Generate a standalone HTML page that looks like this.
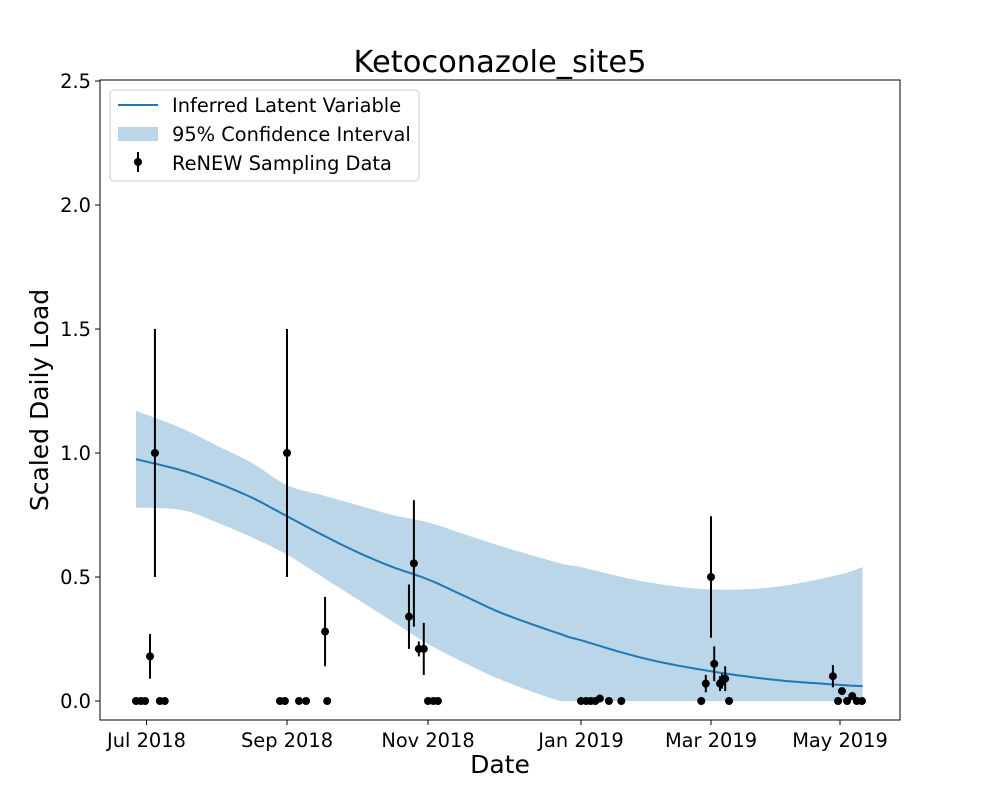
<!DOCTYPE html>
<html><head><meta charset="utf-8"><style>
body{margin:0;background:#fff;}
svg text{font-family:"DejaVu Sans","Liberation Sans",sans-serif;}
</style></head><body>
<svg id="chart" width="1000" height="800" viewBox="0 0 1000 800">
<rect x="0" y="0" width="1000" height="800" fill="#fff"/>
<g id="band"></g>
<g id="line"></g>
<g id="pts"></g>
<rect x="100" y="80" width="800" height="640" fill="none" stroke="#000" stroke-width="1"/>
<g id="xt"></g>
<g id="yt"></g>
<text x="500" y="72" font-size="30.5" text-anchor="middle">Ketoconazole_site5</text>
<text x="500" y="773" font-size="25" text-anchor="middle">Date</text>
<text x="48" y="400" font-size="25" text-anchor="middle" transform="rotate(-90 48 400)">Scaled Daily Load</text>
<g>
<rect x="110" y="90" width="309" height="91" rx="4" fill="#fff" fill-opacity="0.8" stroke="#ccc"/>
<line x1="118" y1="105" x2="158" y2="105" stroke="#1f77b4" stroke-width="2"/>
<text x="172" y="112" font-size="19.4">Inferred Latent Variable</text>
<rect x="118" y="127" width="40" height="14" fill="#1f77b4" fill-opacity="0.3"/>
<text x="172" y="141" font-size="19.4">95% Confidence Interval</text>
<line x1="138" y1="152" x2="138" y2="172" stroke="#000" stroke-width="2"/>
<circle cx="138" cy="162" r="4" fill="#000"/>
<text x="172" y="170" font-size="19.4">ReNEW Sampling Data</text>
</g>
</svg>
<script>
// x in months since Jul 1 2018
const tickMonths=[0,2,4,6,8,10];
const tickLabels=["Jul 2018","Sep 2018","Nov 2018","Jan 2019","Mar 2019","May 2019"];
const yTicks=[0,0.5,1,1.5,2,2.5];
const yTickLabels=["0.0","0.5","1.0","1.5","2.0","2.5"];
const curveX=[-0.15,0.5,1,1.5,2,2.5,3,3.5,4,4.5,5,5.73,6,7,8,9,10,10.35];
const meanY=[0.975,0.93,0.88,0.82,0.745,0.67,0.6,0.54,0.49,0.42,0.35,0.27,0.245,0.17,0.12,0.085,0.065,0.06];
const upperY=[1.17,1.1,1.03,0.96,0.87,0.83,0.79,0.75,0.72,0.67,0.62,0.555,0.54,0.48,0.45,0.46,0.51,0.54];
const lowerY=[0.78,0.77,0.72,0.66,0.59,0.50,0.41,0.32,0.23,0.15,0.08,0,0,0,0,0,0,0];
const ptX=[-0.15,-0.08,-0.02,0.05,0.12,0.19,0.26,1.90,1.97,2.0,2.17,2.27,2.54,2.57,3.73,3.80,3.87,3.94,4.0,4.07,4.13,6.0,6.08,6.15,6.22,6.29,6.43,6.62,7.85,7.92,8.0,8.05,8.14,8.17,8.22,8.28,9.89,9.97,10.03,10.11,10.19,10.26,10.34];
const ptY=[0,0,0,0.18,1.0,0,0,0,0,1.0,0,0,0.28,0,0.34,0.555,0.21,0.21,0,0,0,0,0,0,0,0.01,0,0,0,0.07,0.5,0.15,0.07,0.08,0.09,0,0.10,0,0.04,0,0.02,0,0];
const ptErr=[0,0,0,0.09,0.5,0,0,0,0,0.5,0,0,0.14,0,0.13,0.255,0.03,0.105,0,0,0,0,0,0,0,0,0,0,0,0.035,0.245,0.07,0.03,0.03,0.05,0,0.045,0,0,0,0,0,0];
const tickPx=[146.5,287,428,581,711,840];
function X(m){let i=Math.min(Math.max(Math.floor(m/2),0),tickPx.length-2);
 return tickPx[i]+(m-tickMonths[i])/2*(tickPx[i+1]-tickPx[i]);}
function Y(v){return 701-v*248;}
const NS="http://www.w3.org/2000/svg";
function mk(t,a,p){const e=document.createElementNS(NS,t);for(const k in a)e.setAttribute(k,a[k]);p.appendChild(e);return e;}
function smooth(xs,ys){const out=[];const n=xs.length;
 for(let i=0;i<n-1;i++){const p0=i?i-1:i,p3=i+2<n?i+2:i+1;
  for(let s=0;s<10;s++){const t=s/10,t2=t*t,t3=t2*t;
   const f=(a,b,c,d)=>0.5*(2*b+(-a+c)*t+(2*a-5*b+4*c-d)*t2+(-a+3*b-3*c+d)*t3);
   out.push([f(xs[p0],xs[i],xs[i+1],xs[p3]),Math.max(0,f(ys[p0],ys[i],ys[i+1],ys[p3]))]);}}
 out.push([xs[n-1],ys[n-1]]);return out;}
const band=document.getElementById('band'),line=document.getElementById('line'),pts=document.getElementById('pts'),xt=document.getElementById('xt'),yt=document.getElementById('yt');
const up=smooth(curveX,upperY),lo=smooth(curveX,lowerY).reverse(),mn=smooth(curveX,meanY);
let d=up.map((p,i)=>(i?'L':'M')+X(p[0]).toFixed(1)+','+Y(p[1]).toFixed(1)).join('');
d+=lo.map(p=>'L'+X(p[0]).toFixed(1)+','+Y(p[1]).toFixed(1)).join('');
const bp=mk('path',{d:d+'Z',fill:'#1f77b4','fill-opacity':0.3},band);


const lp=mk('path',{d:mn.map((p,i)=>(i?'L':'M')+X(p[0]).toFixed(1)+','+Y(p[1]).toFixed(1)).join(''),fill:'none',stroke:'#1f77b4','stroke-width':2},line);


ptX.forEach((x,i)=>{
 if(ptErr[i]>0){const l=mk('line',{x1:X(x),x2:X(x),y1:Y(ptY[i]-ptErr[i]),y2:Y(ptY[i]+ptErr[i]),stroke:'#000','stroke-width':2},pts);
 
 }
 const c=mk('circle',{cx:X(x),cy:Y(ptY[i]),r:4,fill:'#000'},pts);
 
 
});
tickMonths.forEach((m,i)=>{
 const l=mk('line',{x1:X(m),x2:X(m),y1:720,y2:725,stroke:'#000'},xt);
 
 
 const t=mk('text',{x:X(m),y:747,'font-size':19.4,'text-anchor':'middle'},xt);t.textContent=tickLabels[i];
 
 
});
yTicks.forEach((v,i)=>{
 const l=mk('line',{x1:95,x2:100,y1:Y(v),y2:Y(v),stroke:'#000'},yt);
 
 
 const t=mk('text',{x:91,y:Y(v)+7,'font-size':19.4,'text-anchor':'end'},yt);t.textContent=yTickLabels[i];
 
 
});
</script>
</body></html>
